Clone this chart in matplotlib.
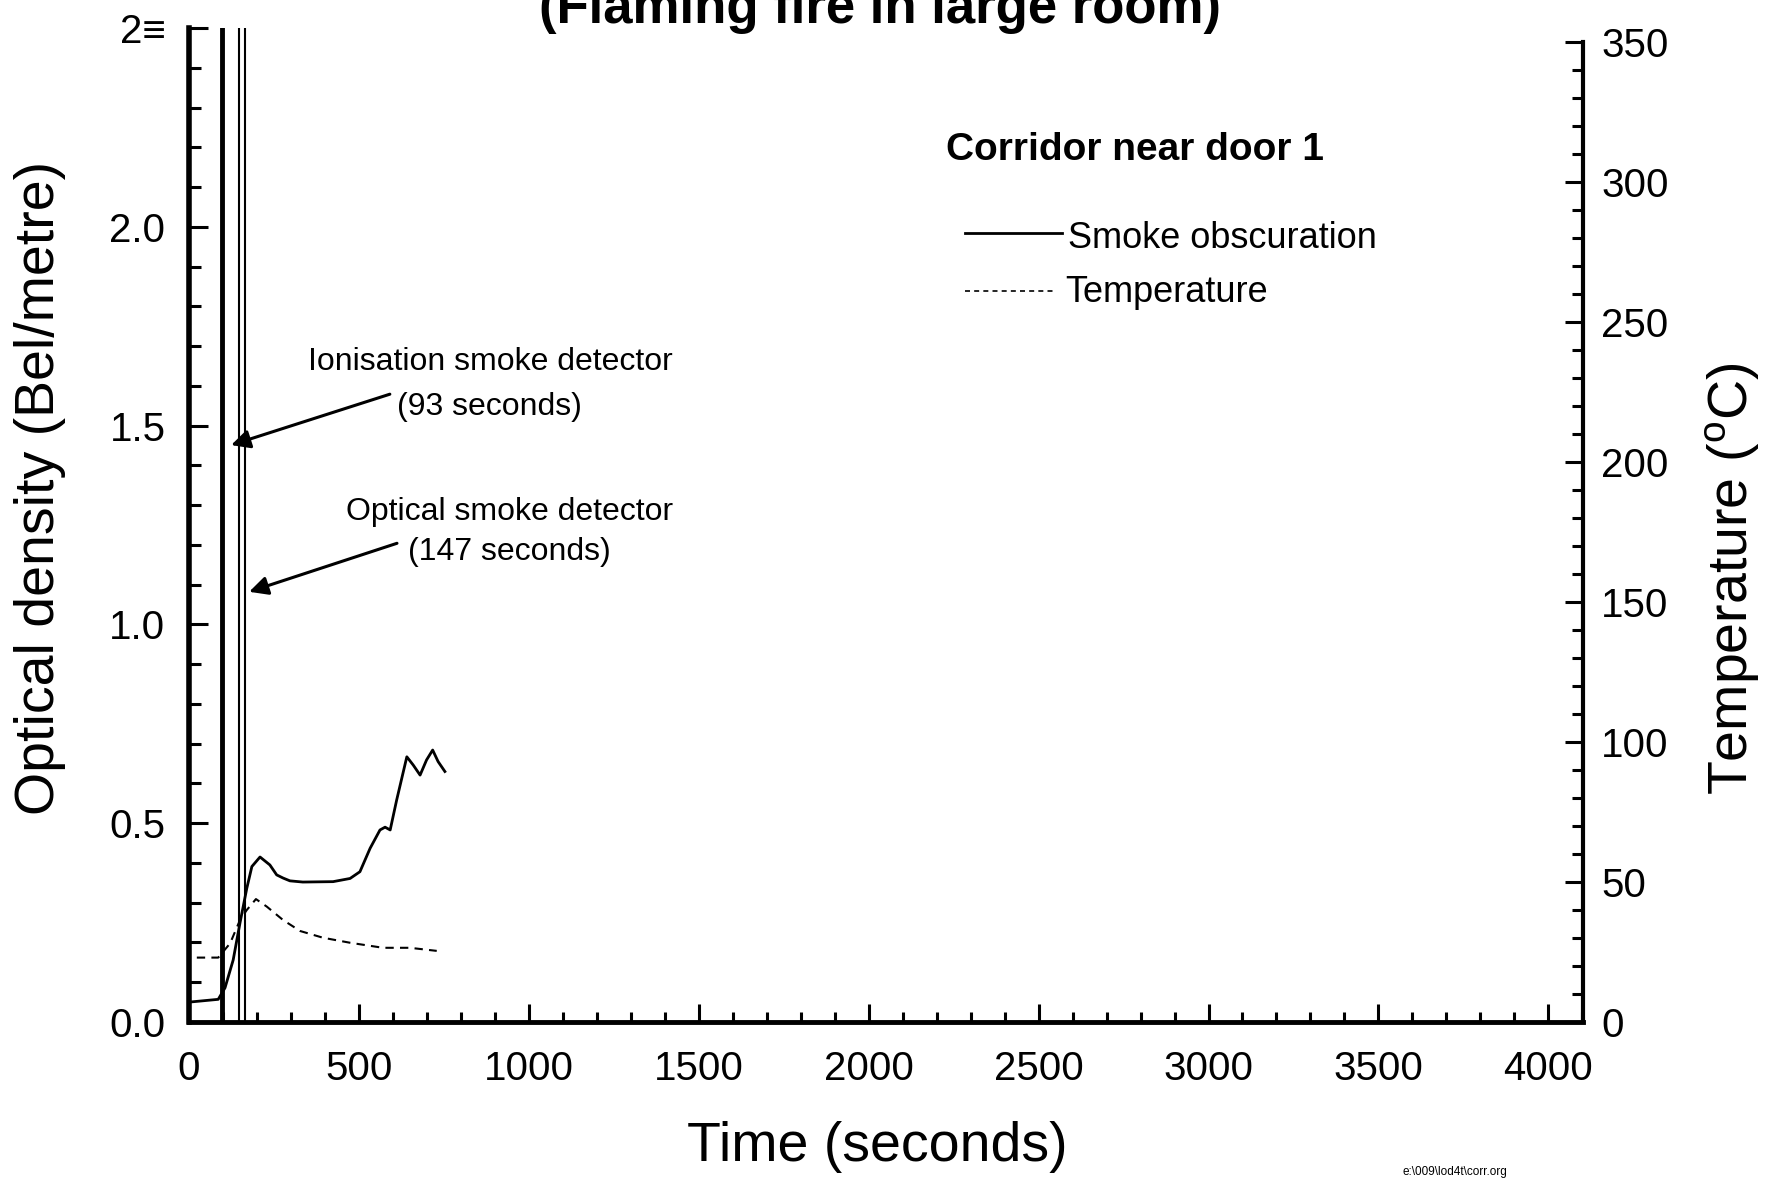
import matplotlib
matplotlib.use("Agg")
import matplotlib.pyplot as plt
from matplotlib.lines import Line2D
from matplotlib.ticker import MultipleLocator, FixedLocator, FixedFormatter

plt.rcParams['font.family'] = ['Liberation Sans', 'DejaVu Sans']
plt.rcParams['mathtext.fontset'] = 'custom'
plt.rcParams['mathtext.rm'] = 'Liberation Sans'

# ---------------- data ----------------
smoke_t = [0, 86, 106, 130, 150, 170, 185, 209, 238, 258, 277, 297, 335, 424, 474,
           503, 533, 562, 577, 592, 611, 641, 660, 680, 699, 717, 733, 753]
smoke_od = [0.050, 0.057, 0.086, 0.156, 0.249, 0.336, 0.391, 0.415, 0.395, 0.370,
            0.362, 0.355, 0.352, 0.353, 0.361, 0.378, 0.437, 0.483, 0.490, 0.483,
            0.558, 0.667, 0.646, 0.621, 0.659, 0.684, 0.655, 0.630]

temp_t = [23, 86, 121, 150, 170, 197, 229, 277, 327, 394, 474, 571, 650, 729]
temp_c = [23.0, 23.0, 28.1, 36.4, 40.0, 43.9, 41.2, 36.4, 32.5, 30.1, 28.3, 26.5, 26.5, 25.4]

detector_thick_t = [97]          # ionisation detector line
detector_thin_t = [148, 164]     # optical detector line (double)

y_left_ticks = [0.0, 0.5, 1.0, 1.5, 2.0, 2.5]
y_left_labels = ["0.0", "0.5", "1.0", "1.5", "2.0", "2\u2261"]
y_right_ticks = [0, 50, 100, 150, 200, 250, 300, 350]
x_ticks = [0, 500, 1000, 1500, 2000, 2500, 3000, 3500, 4000]

W, H = 1781, 1180
fig = plt.figure(figsize=(W / 100, H / 100), dpi=100)
fig.patch.set_facecolor('white')

def fx(px):
    return px / W

def fy(py):
    return 1 - py / H

ax = fig.add_axes([fx(189), fy(1022), fx(1583) - fx(189), fy(28) - fy(1022)])
ax2 = ax.twinx()

ax.set_xlim(0, 4102)
ax.set_ylim(0, 2.5)
ax2.set_ylim(0, 355)

# curves
ax.plot(smoke_t, smoke_od, color='black', lw=2.0, solid_joinstyle='round')
ax2.plot(temp_t, temp_c, color='black', lw=1.5, dashes=(4, 3))

for t in detector_thick_t:
    ax.axvline(t, color='black', lw=3.5)
for t in detector_thin_t:
    ax.axvline(t, color='black', lw=1.5)

# spines
for a in (ax, ax2):
    a.spines['top'].set_visible(False)
ax.spines['left'].set_linewidth(4)
ax.spines['bottom'].set_linewidth(3.5)
ax2.spines['right'].set_linewidth(3)
ax2.spines['right'].set_bounds(0, 350)
ax2.spines['left'].set_visible(False)
ax2.spines['bottom'].set_visible(False)
ax.spines['right'].set_visible(False)

# ticks
ax.xaxis.set_major_locator(FixedLocator(x_ticks))
ax.xaxis.set_minor_locator(MultipleLocator(100))
ax.yaxis.set_major_locator(FixedLocator(y_left_ticks))
ax.yaxis.set_major_formatter(FixedFormatter(y_left_labels))
ax.yaxis.set_minor_locator(MultipleLocator(0.1))
ax2.yaxis.set_major_locator(FixedLocator(y_right_ticks))
ax2.yaxis.set_minor_locator(MultipleLocator(10))

ax.tick_params(axis='x', which='major', direction='in', length=13, width=2.2,
               labelsize=29, pad=20)
ax.tick_params(axis='x', which='minor', direction='in', length=7, width=2.2)
ax.tick_params(axis='y', which='major', direction='in', length=14, width=2.2,
               labelsize=29, pad=17)
ax.tick_params(axis='y', which='minor', direction='in', length=8.5, width=2.2)
ax2.tick_params(axis='y', which='major', direction='in', length=13, width=2.2,
                labelsize=29, pad=13)
ax2.tick_params(axis='y', which='minor', direction='in', length=8, width=2.2)

# axis labels
fig.text(fx(40), fy(488), "Optical density (Bel/metre)", rotation=90,
         ha='center', va='center', fontsize=40)
fig.text(fx(1732), fy(579), "Temperature ($^{\\rm o}$C)", rotation=90,
         ha='center', va='center', fontsize=40)
fig.text(fx(877), fy(1147), "Time (seconds)", ha='center', va='center', fontsize=40)

# title (cut off at top)
fig.text(fx(880), fy(23), "(Flaming fire in large room)", ha='center',
         va='baseline', fontsize=38, fontweight='bold')

# legend block
fig.text(fx(946), fy(150), "Corridor near door 1", ha='left', va='center',
         fontsize=28, fontweight='bold')
fig.add_artist(Line2D([fx(965), fx(1062)], [fy(233), fy(233)], color='black', lw=2.0))
fig.text(fx(1068), fy(238), "Smoke obscuration", ha='left', va='center', fontsize=26)
fig.add_artist(Line2D([fx(965), fx(1056)], [fy(291), fy(291)], color='black', lw=1.2,
                      dashes=(3, 2.5)))
fig.text(fx(1065), fy(293), "Temperature", ha='left', va='center', fontsize=26)

# detector annotations
fig.text(fx(490), fy(362), "Ionisation smoke detector", ha='center', va='center', fontsize=23)
fig.text(fx(489), fy(407), "(93 seconds)", ha='center', va='center', fontsize=23)
fig.text(fx(510), fy(512), "Optical smoke detector", ha='center', va='center', fontsize=23)
fig.text(fx(509), fy(552), "(147 seconds)", ha='center', va='center', fontsize=23)

arrow_kw = dict(arrowstyle='-|>', color='black', lw=2.2, mutation_scale=28,
                shrinkA=0, shrinkB=0)
ax.annotate('', xy=(124, 1.451), xytext=(591, 1.579), xycoords='data',
            textcoords='data', arrowprops=arrow_kw)
ax.annotate('', xy=(177, 1.082), xytext=(612, 1.204), xycoords='data',
            textcoords='data', arrowprops=arrow_kw)

# file reference footnote
fig.text(fx(1403), fy(1172), "e:\\009\\lod4t\\corr.org", ha='left', va='center',
         fontsize=8.5)

fig.savefig("out.png", dpi=100, facecolor='white')
